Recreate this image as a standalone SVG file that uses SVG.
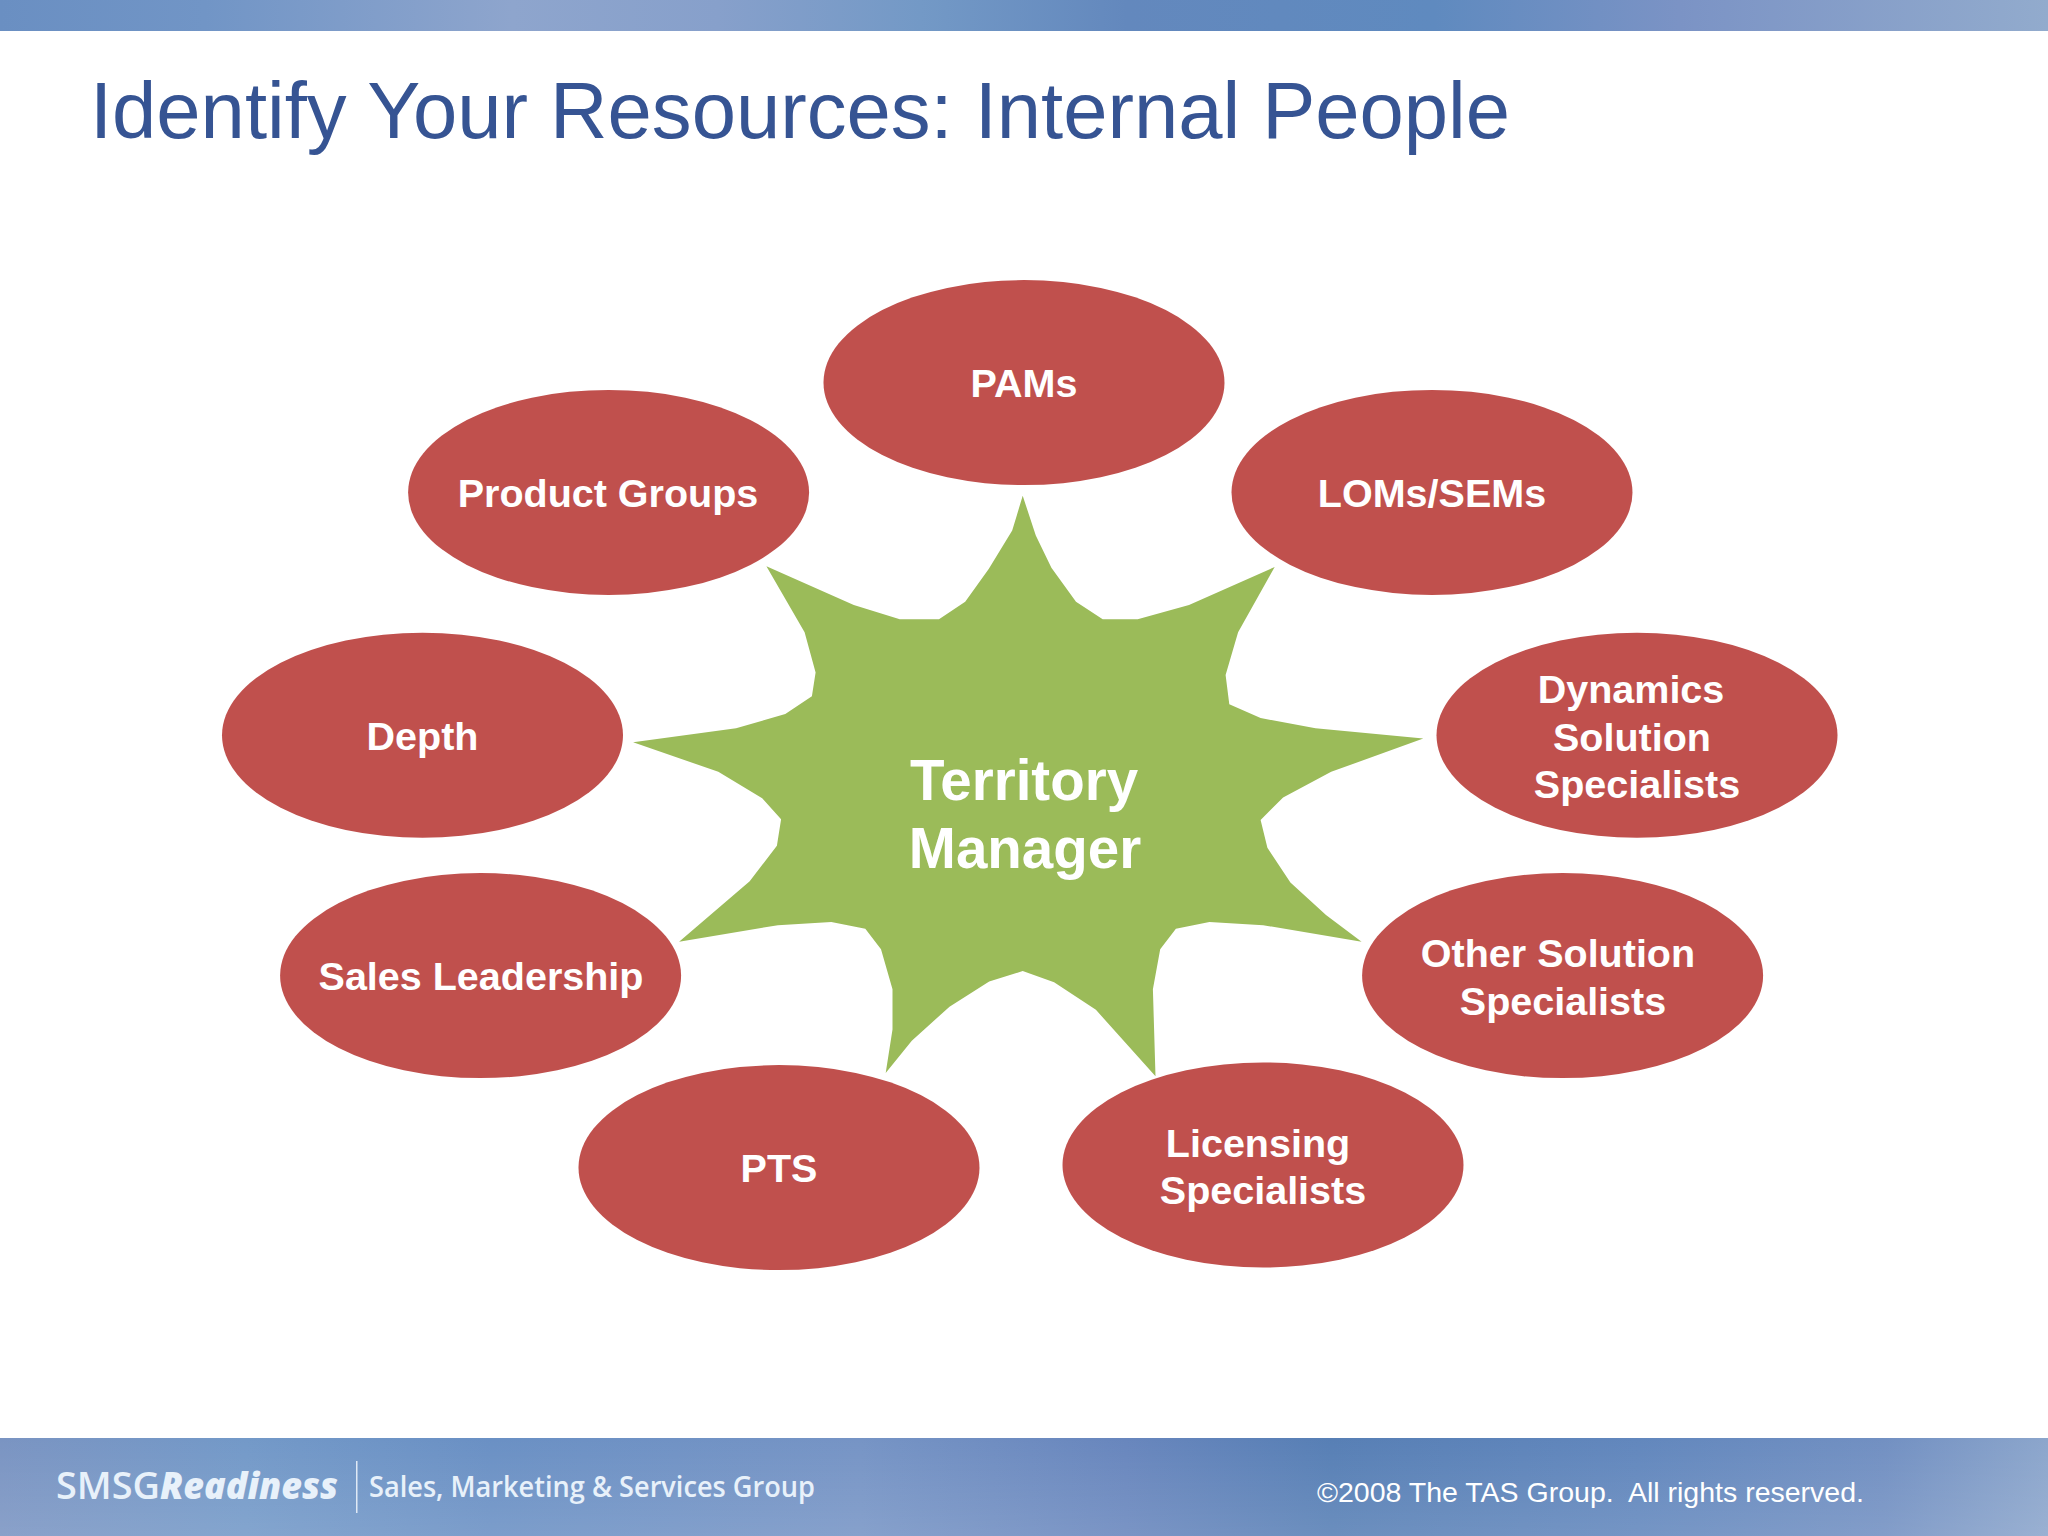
<svg xmlns="http://www.w3.org/2000/svg" width="2048" height="1536" viewBox="0 0 2048 1536">
<defs>
<linearGradient id="top" x1="0" x2="1" y1="0" y2="0"><stop offset="0" stop-color="#6a8fc2"/><stop offset="0.1" stop-color="#7195c6"/><stop offset="0.25" stop-color="#8ea5cd"/><stop offset="0.35" stop-color="#87a0cb"/><stop offset="0.45" stop-color="#7399c6"/><stop offset="0.55" stop-color="#6388bd"/><stop offset="0.7" stop-color="#5f8abf"/><stop offset="0.82" stop-color="#7b93c5"/><stop offset="1" stop-color="#92abcd"/></linearGradient>
<linearGradient id="bot" x1="0" x2="1" y1="0" y2="0"><stop offset="0" stop-color="#7a94c2"/><stop offset="0.12" stop-color="#7399c8"/><stop offset="0.24" stop-color="#6a90c4"/><stop offset="0.42" stop-color="#7694c5"/><stop offset="0.55" stop-color="#6886bd"/><stop offset="0.65" stop-color="#577fb5"/><stop offset="0.8" stop-color="#6287bd"/><stop offset="0.92" stop-color="#7290c2"/><stop offset="1" stop-color="#8ca6cc"/></linearGradient>
<linearGradient id="botv" x1="0" x2="0" y1="0" y2="1"><stop offset="0" stop-color="#fff" stop-opacity="0"/><stop offset="1" stop-color="#fff" stop-opacity="0.12"/></linearGradient>
</defs>
<style>
.n{fill:#c0504d}
.t{font-family:"Liberation Sans",Arial,sans-serif;font-weight:bold;font-size:39.5px;fill:#fff;text-anchor:middle}
.c{font-size:56.5px}
.l{font-family:"Open Sans","Liberation Sans",sans-serif;font-weight:600;fill:#e8f1fa}
.b{font-weight:800;font-style:italic}
</style>
<rect id="top-bar" width="2048" height="31" fill="url(#top)"/>
<text id="title" x="90" y="138" font-family="Liberation Sans, Arial, sans-serif" font-size="80" fill="#365493" textLength="1420" lengthAdjust="spacingAndGlyphs">Identify Your Resources: Internal People</text>
<g id="connectors"/>
<g id="center"><polygon fill="#9bbb59" points="1022.7,495.8 1035.8,535.4 1051.4,567.8 1076,601.8 1102.7,619.2 1137.7,619.2 1189,604.9 1274.7,567 1238.1,632.2 1225.6,674.9 1229.3,704.2 1260.6,718 1315.5,728.3 1423.3,738.6 1331.2,771.8 1283.1,797.5 1260.6,820 1267.4,847.7 1290.4,882.5 1326,914.9 1361.6,941.8 1263.2,925.2 1209.4,922 1175.9,928.8 1160.2,949.3 1152.9,989.3 1155.5,1076.3 1095.9,1009.8 1054.1,982.2 1022.7,971.1 989.2,981.4 949.5,1006.7 911.8,1040.7 885.7,1073.1 892.5,1029.6 892.5,989.3 881,949.3 865.3,928.8 831.3,922 777.9,925.2 679.1,941.8 749.7,881.3 776.9,845.7 781.1,819.2 762.2,798.3 718.3,771.8 633.1,742.2 736.1,728.3 785.3,714.1 811.9,696.3 815.6,672.6 804.6,632.2 766.4,566.2 853.8,604.9 899.8,619.2 939,619.2 965.2,601.8 988.7,569 1012.2,530.6"/>
<text class="t c" x="1024" y="800">Territory</text><text class="t c" x="1025" y="868">Manager</text></g>
<g id="pams"><ellipse class="n" cx="1024" cy="382.6" rx="200.5" ry="102.5"/><text class="t" x="1024" y="397">PAMs</text></g>
<g id="product-groups"><ellipse class="n" cx="608.6" cy="492.4" rx="200.5" ry="102.5"/><text class="t" x="608" y="507">Product Groups</text></g>
<g id="loms-sems"><ellipse class="n" cx="1432" cy="492.4" rx="200.5" ry="102.5"/><text class="t" x="1432" y="507">LOMs/SEMs</text></g>
<g id="dynamics"><ellipse class="n" cx="1637" cy="735.3" rx="200.5" ry="102.5"/><text class="t" x="1631" y="703">Dynamics</text><text class="t" x="1632" y="751">Solution</text><text class="t" x="1637" y="798">Specialists</text></g>
<g id="depth"><ellipse class="n" cx="422.5" cy="735.3" rx="200.5" ry="102.5"/><text class="t" x="422.5" y="750">Depth</text></g>
<g id="sales-leadership"><ellipse class="n" cx="480.6" cy="975.6" rx="200.5" ry="102.5"/><text class="t" x="481" y="990">Sales Leadership</text></g>
<g id="other"><ellipse class="n" cx="1562.6" cy="975.6" rx="200.5" ry="102.5"/><text class="t" x="1558" y="967">Other Solution</text><text class="t" x="1563" y="1015">Specialists</text></g>
<g id="pts"><ellipse class="n" cx="779" cy="1167.6" rx="200.5" ry="102.5"/><text class="t" x="779" y="1182">PTS</text></g>
<g id="licensing"><ellipse class="n" cx="1263" cy="1165" rx="200.5" ry="102.5"/><text class="t" x="1258" y="1157">Licensing</text><text class="t" x="1263" y="1204">Specialists</text></g>
<rect id="bottom-bar" y="1438" width="2048" height="98" fill="url(#bot)"/>
<rect y="1438" width="2048" height="98" fill="url(#botv)"/>
<text class="l" x="56" y="1499" font-size="37" textLength="104" lengthAdjust="spacingAndGlyphs">SMSG</text>
<text class="l b" x="160" y="1499" font-size="37" textLength="178" lengthAdjust="spacingAndGlyphs">Readiness</text>
<rect x="356" y="1461" width="1.5" height="52" fill="#dfe9f5"/>
<text class="l" x="369" y="1497" font-size="29" textLength="446" lengthAdjust="spacingAndGlyphs">Sales, Marketing &amp; Services Group</text>
<text x="1317" y="1502" font-family="Liberation Sans, Arial, sans-serif" font-size="28.5" fill="#fff" xml:space="preserve">©2008 The TAS Group.  All rights reserved.</text>
</svg>
